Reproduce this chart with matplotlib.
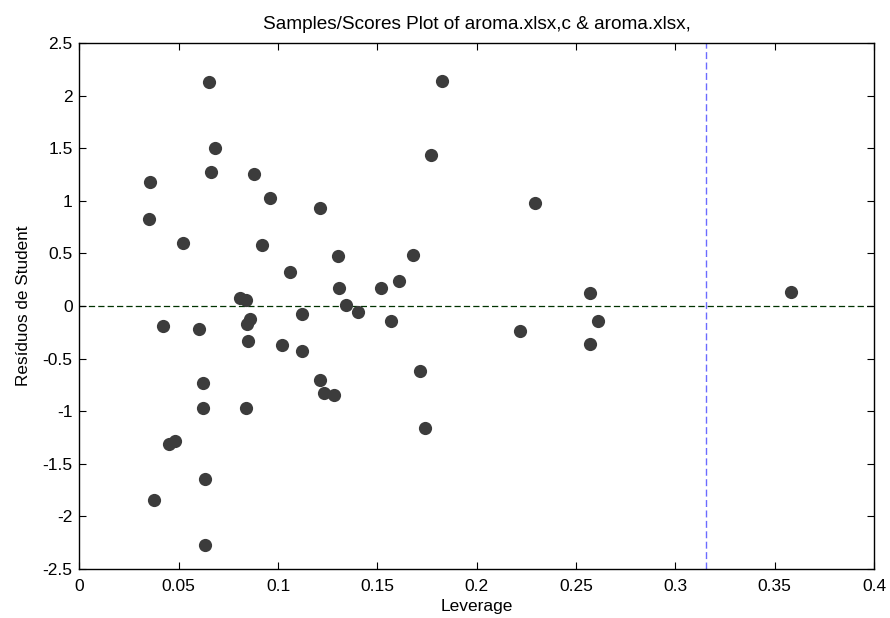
import matplotlib
matplotlib.use("Agg")
import matplotlib.pyplot as plt
import numpy as np

plt.rcParams['font.family'] = ['Liberation Sans', 'DejaVu Sans']
plt.rcParams['axes.unicode_minus'] = False

# leverage / studentized residuals
leverage = [0.065, 0.068, 0.066, 0.088, 0.0355, 0.096, 0.035, 0.052, 0.092, 0.106,
            0.081, 0.084, 0.1825, 0.177, 0.121, 0.130, 0.168, 0.1305, 0.152, 0.161,
            0.134, 0.140, 0.112, 0.157, 0.102, 0.112, 0.121, 0.1714, 0.123, 0.128,
            0.174, 0.086, 0.0845, 0.042, 0.060, 0.085, 0.062, 0.062, 0.084, 0.045,
            0.048, 0.063, 0.0375, 0.063, 0.2295, 0.257, 0.358, 0.2216, 0.261, 0.257]
residuals = [2.13, 1.50, 1.27, 1.26, 1.18, 1.03, 0.83, 0.60, 0.585, 0.32,
             0.078, 0.059, 2.135, 1.44, 0.93, 0.474, 0.487, 0.17, 0.17, 0.236,
             0.014, -0.052, -0.08, -0.138, -0.37, -0.427, -0.703, -0.62, -0.827, -0.843,
             -1.16, -0.122, -0.17, -0.19, -0.22, -0.33, -0.73, -0.967, -0.967, -1.312,
             -1.287, -1.646, -1.84, -2.27, 0.977, 0.123, 0.136, -0.236, -0.142, -0.362]
leverage_limit = 0.3156

xticks = [0, 0.05, 0.1, 0.15, 0.2, 0.25, 0.3, 0.35, 0.4]
xticklabels = ['0', '0.05', '0.1', '0.15', '0.2', '0.25', '0.3', '0.35', '0.4']
yticks = [-2.5, -2, -1.5, -1, -0.5, 0, 0.5, 1, 1.5, 2, 2.5]
yticklabels = ['-2.5', '-2', '-1.5', '-1', '-0.5', '0', '0.5', '1', '1.5', '2', '2.5']

fig = plt.figure(figsize=(8.9, 6.18), dpi=100)
ax = fig.add_axes([0.0893, 0.0793, 0.8927, 0.851])

ax.axhline(0, color='#003300', linestyle='--', linewidth=0.9, dashes=(5, 2.5), zorder=1)
ax.axvline(leverage_limit, color='#6b6bff', linestyle='--', linewidth=1.0, dashes=(5, 2.5), zorder=1)
ax.plot(leverage, residuals, 'o', color='#3c3c3c', markersize=9.5, markeredgewidth=0, zorder=3)

ax.set_xlim(0, 0.4)
ax.set_ylim(-2.5, 2.5)
ax.set_xticks(xticks)
ax.set_xticklabels(xticklabels)
ax.set_yticks(yticks)
ax.set_yticklabels(yticklabels)
ax.tick_params(direction='in', top=True, right=True, length=5, width=0.8,
               labelsize=12.5)
ax.tick_params(axis='y', pad=5)
ax.tick_params(axis='x', pad=7)
for s in ax.spines.values():
    s.set_linewidth(1.0)

ax.set_title('Samples/Scores Plot of aroma.xlsx,c & aroma.xlsx,', fontsize=13.7, pad=10)
ax.set_xlabel('Leverage', fontsize=12.5, labelpad=4)
ax.set_ylabel('Resíduos de Student', fontsize=12.3, labelpad=8)

fig.savefig('out.png', dpi=100)
